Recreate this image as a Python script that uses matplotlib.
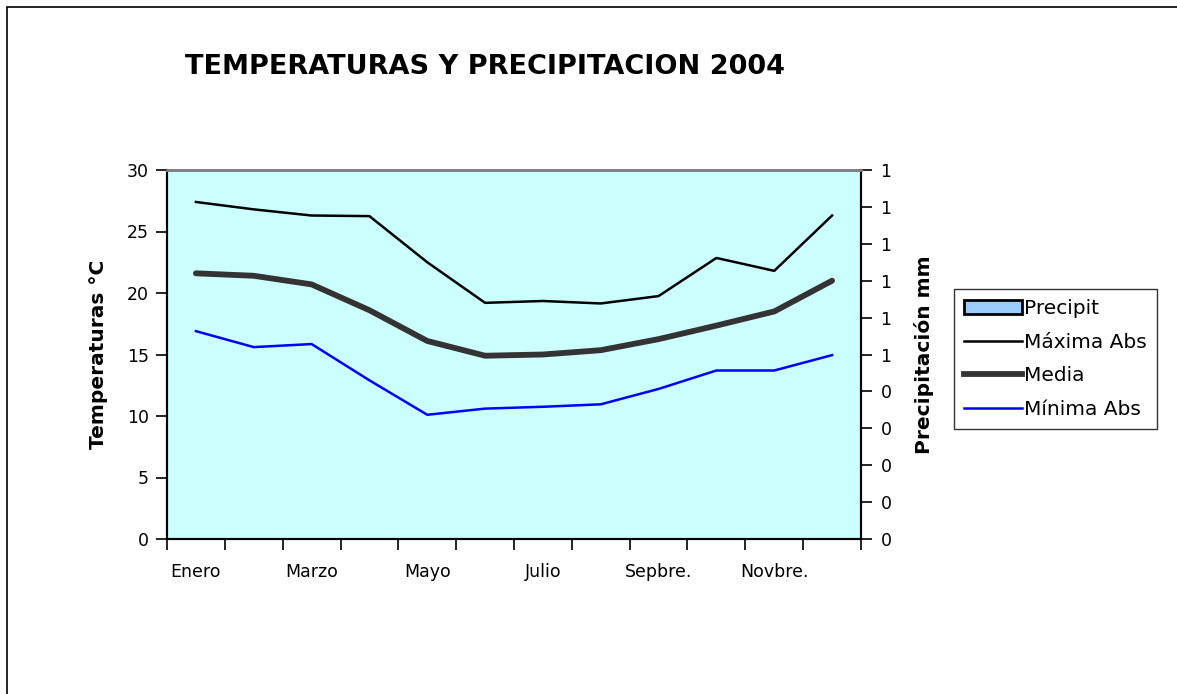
import matplotlib
matplotlib.use("Agg")
import matplotlib.pyplot as plt
from matplotlib.patches import Patch, Rectangle
from matplotlib.lines import Line2D
import numpy as np

months = ["Enero", "Febrero", "Marzo", "Abril", "Mayo", "Junio", "Julio",
          "Agosto", "Sepbre.", "Octubre", "Novbre.", "Dicbre."]
maxima = [27.4, 26.8, 26.3, 26.25, 22.5, 19.2, 19.35, 19.15, 19.75, 22.85, 21.8, 26.3]
media = [21.6, 21.4, 20.7, 18.6, 16.1, 14.9, 15.0, 15.35, 16.25, 17.35, 18.5, 21.0]
minima = [16.9, 15.6, 15.85, 12.9, 10.1, 10.6, 10.75, 10.95, 12.2, 13.7, 13.7, 14.95]
precip = [0] * 12
right_ticks = [0, 0.1, 0.2, 0.3, 0.4, 0.5, 0.6, 0.7, 0.8, 0.9, 1.0]
right_labels = ["0", "0", "0", "0", "0", "1", "1", "1", "1", "1", "1"]
left_ticks = [0, 5, 10, 15, 20, 25, 30]

plt.rcParams['font.family'] = ['DejaVu Sans']

fig = plt.figure(figsize=(11.77, 6.94), dpi=100)
fig.patch.set_facecolor("white")
fig.patches.append(Rectangle((6.5 / 1177, -0.1), 1.2, 1.1 - 6.5 / 694,
                             transform=fig.transFigure, fill=False,
                             edgecolor="black", linewidth=1.2, zorder=0))

ax = fig.add_axes([167 / 1177, 1 - 539 / 694, (861 - 167) / 1177, (539 - 170) / 694])
ax.set_facecolor("#CCFFFF")
x = np.arange(len(months))
ax2 = ax.twinx()
ax2.bar(x, precip, width=0.6, color="#99CCFF", edgecolor="black", linewidth=0)
ax2.set_ylim(0, 1)
ax2.set_yticks(right_ticks)
ax2.set_yticklabels(right_labels)

ax.plot(x, maxima, color="black", lw=1.8, zorder=3)
ax.plot(x, media, color="#333333", lw=4.2, zorder=3, solid_capstyle="round")
ax.plot(x, minima, color="#0000FF", lw=1.8, zorder=3)

FS = 12.5
ax.set_xlim(-0.5, 11.5)
ax.set_ylim(0, 30)
ax.set_yticks(left_ticks)
ax.set_xticks(np.arange(-0.5, 12, 1), minor=False)
ax.set_xticklabels([])
ax.set_xticks(x, minor=True)
ax.set_xticklabels([m if i % 2 == 0 else "" for i, m in enumerate(months)], minor=True)
ax.tick_params(axis="x", which="minor", length=0, pad=17, labelsize=FS)
ax.tick_params(axis="x", which="major", length=8, width=1.2, direction="out")
ax.tick_params(axis="y", length=8, width=1.2, labelsize=FS, pad=5)
ax2.tick_params(axis="y", length=8, width=1.2, labelsize=FS, pad=6)

for a in (ax, ax2):
    for s in ("left", "right", "bottom"):
        a.spines[s].set_color("black")
        a.spines[s].set_linewidth(1.5)
    a.spines["top"].set_color("#808080")
    a.spines["top"].set_linewidth(2)

ax.set_ylabel("Temperaturas °C", fontsize=14.5, fontweight="bold", labelpad=14)
ax2.set_ylabel("Precipitación mm", fontsize=14.5, fontweight="bold", labelpad=16)

fig.text(185 / 1177, 1 - 67 / 694, "TEMPERATURAS Y PRECIPITACION 2004",
         fontsize=19.5, fontweight="bold", ha="left", va="center")

handles = [Patch(facecolor="#99CCFF", edgecolor="black", linewidth=2),
           Line2D([], [], color="black", lw=1.8),
           Line2D([], [], color="#333333", lw=4.2),
           Line2D([], [], color="#0000FF", lw=1.8)]
labels = ["Precipit", "Máxima Abs", "Media", "Mínima Abs"]
leg = fig.legend(handles, labels, loc="upper left",
                 bbox_to_anchor=(954 / 1177, 1 - 289 / 694),
                 fontsize=14.5, frameon=True, fancybox=False, edgecolor="black",
                 handlelength=2.9, handletextpad=0.1, borderpad=0.5,
                 labelspacing=0.72, borderaxespad=0)
leg.get_frame().set_linewidth(1)

fig.savefig("out.png", dpi=100)
